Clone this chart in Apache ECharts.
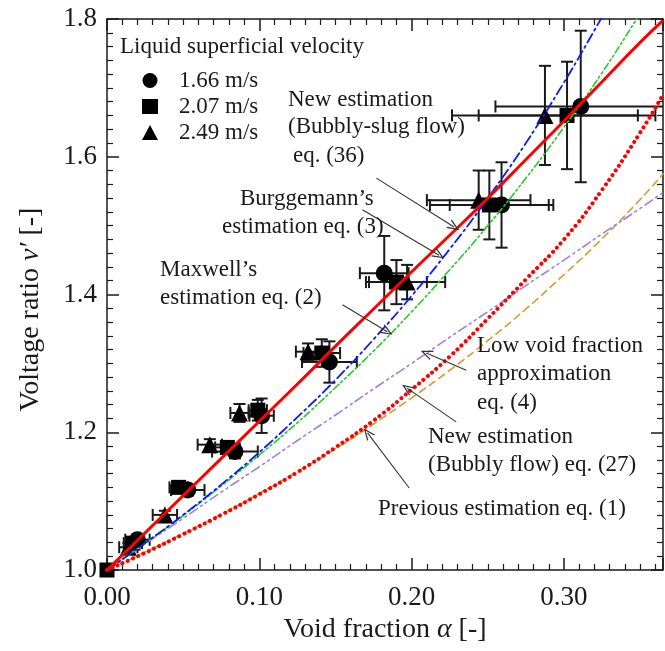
<!DOCTYPE html>
<html>
<head>
<meta charset="utf-8">
<script src="https://cdn.jsdelivr.net/npm/echarts@6/dist/echarts.min.js"></script>
<style>
  html, body { margin: 0; padding: 0; background: #fff; }
  #chart { width: 665px; height: 651px; }
</style>
</head>
<body>
<div id="chart"></div>
<script>
// measured points: [void fraction, voltage ratio, +/- void err, +/- ratio err]
const circles = [
  [0.020, 1.044, 0.008, 0.008],
  [0.053, 1.116, 0.011, 0.008],
  [0.084, 1.172, 0.015, 0.010],
  [0.1015, 1.224, 0.008, 0.025],
  [0.146, 1.302, 0.018, 0.030],
  [0.182, 1.431, 0.016, 0.054],
  [0.259, 1.530, 0.034, 0.062],
  [0.311, 1.673, 0.056, 0.110],
]
const squares = [
  [0.000, 1.000, 0, 0],
  [0.017, 1.039, 0.006, 0.006],
  [0.047, 1.120, 0.006, 0.006],
  [0.079, 1.178, 0.008, 0.008],
  [0.099, 1.232, 0.006, 0.015],
  [0.141, 1.315, 0.012, 0.020],
  [0.190, 1.418, 0.020, 0.032],
  [0.251, 1.530, 0.039, 0.050],
  [0.302, 1.660, 0.058, 0.078],
]
const triangles = [
  [0.014, 1.033, 0.006, 0.006],
  [0.038, 1.080, 0.008, 0.006],
  [0.0675, 1.182, 0.008, 0.008],
  [0.087, 1.228, 0.006, 0.013],
  [0.132, 1.317, 0.008, 0.012],
  [0.197, 1.418, 0.025, 0.025],
  [0.244, 1.537, 0.034, 0.043],
  [0.2875, 1.660, 0.061, 0.072],
]

// estimation curves
const alphaSteps = [0, 0.025, 0.05, 0.075, 0.1, 0.125, 0.15, 0.175, 0.2, 0.225, 0.25, 0.275, 0.3, 0.325, 0.35, 0.365]
const slugFlow36 = [1, 1.054, 1.108, 1.162, 1.216, 1.270, 1.325, 1.379, 1.433, 1.486, 1.540, 1.596, 1.652, 1.709, 1.766, 1.798]
const bubblyFlow27 = [1, 1.025, 1.052, 1.080, 1.110, 1.142, 1.178, 1.217, 1.262, 1.310, 1.365, 1.422, 1.480, 1.552, 1.635, 1.690]
const bruggeman3 = [1, 1.039, 1.080, 1.124, 1.171, 1.222, 1.276, 1.335, 1.398, 1.466, 1.540, 1.620, 1.708, 1.803, 1.9, 1.96]
const maxwell2 = [1, 1.039, 1.079, 1.122, 1.167, 1.214, 1.265, 1.318, 1.375, 1.436, 1.500, 1.569, 1.643, 1.722, 1.808, 1.86]
const lowVoid4 = [1, 1.038, 1.075, 1.113, 1.150, 1.188, 1.225, 1.263, 1.300, 1.338, 1.375, 1.413, 1.450, 1.488, 1.525, 1.548]
const previous1 = [1, 1.026, 1.053, 1.081, 1.111, 1.143, 1.176, 1.212, 1.250, 1.290, 1.333, 1.379, 1.429, 1.481, 1.538, 1.575]

const xTicks = [0, 0.1, 0.2, 0.3]
const yTicks = [1.0, 1.2, 1.4, 1.6, 1.8]

// annotation arrows: [from, to] in data units
const arrows = [
  [[0.1768, 1.569], [0.2279, 1.498]],
  [[0.1677, 1.523], [0.2180, 1.457]],
  [[0.1546, 1.385], [0.1840, 1.346]],
  [[0.2358, 1.290], [0.2096, 1.315]],
  [[0.2292, 1.215], [0.1970, 1.264]],
  [[0.1984, 1.119], [0.1710, 1.199]],
]

const FONT = '"Liberation Serif", "Times New Roman", serif'
const INK = '#1a1a1a'

const notes = [
  ['Liquid superficial velocity', 120, 48],
  ['New estimation', 288, 101],
  ['(Bubbly-slug flow)', 288, 128],
  ['eq. (36)', 293, 157],
  ['Burggemann\u2019s', 240, 200],
  ['estimation eq. (3)', 222, 228],
  ['Maxwell\u2019s', 160, 271],
  ['estimation eq. (2)', 160, 299],
  ['Low void fraction', 477, 347],
  ['approximation', 477, 375],
  ['eq. (4)', 477, 404],
  ['New estimation', 428, 438],
  ['(Bubbly flow) eq. (27)', 428, 466],
  ['Previous estimation eq. (1)', 378, 510],
]

function pairs(ys) {
  return alphaSteps.map((a, i) => [a, ys[i]])
}

function errorBars(params, api) {
  const x = api.value(0)
  const y = api.value(1)
  const dx = api.value(2)
  const dy = api.value(3)
  const cap = 6
  const style = { stroke: INK, lineWidth: 2 }
  const kids = []
  const seg = (x1, y1, x2, y2) => kids.push({ type: 'line', shape: { x1, y1, x2, y2 }, style })
  if (dx > 0) {
    const l = api.coord([x - dx, y])
    const r = api.coord([x + dx, y])
    seg(l[0], l[1], r[0], r[1])
    seg(l[0], l[1] - cap, l[0], l[1] + cap)
    seg(r[0], r[1] - cap, r[0], r[1] + cap)
  }
  if (dy > 0) {
    const t = api.coord([x, y + dy])
    const b = api.coord([x, y - dy])
    seg(t[0], t[1], b[0], b[1])
    seg(t[0] - cap, t[1], t[0] + cap, t[1])
    seg(b[0] - cap, b[1], b[0] + cap, b[1])
  }
  return { type: 'group', children: kids }
}

function points(name, data, symbol, size) {
  return [
    { type: 'custom', data, renderItem: errorBars, clip: true, z: 2, silent: true },
    {
      name, type: 'scatter', data: data.map((d) => [d[0], d[1]]),
      symbol, symbolSize: size, itemStyle: { color: '#000', opacity: 1 }, z: 3,
    },
  ]
}

function curve(ys, color, width, dash) {
  return {
    type: 'line', data: pairs(ys), smooth: true, showSymbol: false, clip: true, z: 4,
    lineStyle: { color, width, type: dash, cap: dash === 'solid' ? 'butt' : 'round' },
  }
}

const chevron = 'path://M0,10 L5,0 L10,10 L8.6,10 L5,2.6 L1.4,10 Z'

const chart = echarts.init(document.getElementById('chart'), null, { renderer: 'canvas' })

const baseX = {
  type: 'value', min: 0, max: 0.365, interval: 0.1,
  axisLine: { show: true, onZero: false, lineStyle: { color: INK, width: 1.5 } },
  axisTick: { inside: true, length: 12, lineStyle: { color: INK, width: 1.5 } },
  minorTick: { show: true, splitNumber: 10, length: 6, lineStyle: { color: INK, width: 1.2 } },
  splitLine: { show: false },
}
const baseY = {
  type: 'value', min: 1.0, max: 1.8, interval: 0.2,
  axisLine: { show: true, onZero: false, lineStyle: { color: INK, width: 1.5 } },
  axisTick: { inside: true, length: 12, lineStyle: { color: INK, width: 1.5 } },
  minorTick: { show: true, splitNumber: 10, length: 6, lineStyle: { color: INK, width: 1.2 } },
  splitLine: { show: false },
}

const titleStyle = {
  fontFamily: FONT, fontSize: 28, color: INK,
  rich: { i: { fontFamily: FONT, fontSize: 28, fontStyle: 'italic', color: INK } },
}

chart.setOption({
  animation: false,
  backgroundColor: '#fff',
  textStyle: { fontFamily: FONT },
  grid: { left: 107, right: 2, top: 19, bottom: 81 },
  legend: {
    data: [
      { name: '1.66 m/s', icon: 'circle' },
      { name: '2.07 m/s', icon: 'rect' },
      { name: '2.49 m/s', icon: 'triangle' },
    ],
    orient: 'vertical', left: 137, top: 64,
    itemWidth: 16, itemHeight: 15, itemGap: 3,
    textStyle: { fontFamily: FONT, fontSize: 23, color: INK, padding: [0, 0, 0, 16] },
    selectedMode: false,
  },
  xAxis: [
    Object.assign({}, baseX, {
      position: 'bottom',
      name: 'Void fraction {i|\u03b1} [-]',
      nameLocation: 'middle', nameGap: 42,
      nameTextStyle: titleStyle,
      axisLabel: {
        margin: 14, fontFamily: FONT, fontSize: 27, color: INK, showMaxLabel: false,
        formatter: (v) => (xTicks.some((t) => Math.abs(t - v) < 1e-9) ? v.toFixed(2) : ''),
      },
    }),
    Object.assign({}, baseX, { position: 'top', axisLabel: { show: false } }),
  ],
  yAxis: [
    Object.assign({}, baseY, {
      position: 'left',
      name: 'Voltage ratio {i|v\u2032} [-]',
      nameLocation: 'middle', nameGap: 62, nameRotate: 90,
      nameTextStyle: Object.assign({}, titleStyle, { padding: [0, 30, 0, 0] }),
      axisLabel: {
        margin: 10, fontFamily: FONT, fontSize: 27, color: INK,
        formatter: (v) => (yTicks.some((t) => Math.abs(t - v) < 1e-9) ? v.toFixed(1) : ''),
      },
    }),
    Object.assign({}, baseY, { position: 'right', axisLabel: { show: false } }),
  ],
  series: [
    ...points('1.66 m/s', circles, 'circle', 17),
    ...points('2.07 m/s', squares, 'rect', 15),
    ...points('2.49 m/s', triangles, 'triangle', 17),
    curve(previous1, '#d99a2b', 1.6, [7, 5]),
    curve(lowVoid4, '#a57be6', 1.6, [9, 4, 2, 4, 2, 4]),
    curve(maxwell2, '#22cc22', 1.6, [2, 3, 2, 3, 7, 3]),
    curve(bruggeman3, '#0a1aff', 1.8, [10, 4, 2, 4]),
    curve(bubblyFlow27, '#ff0000', 4, [0.1, 5.6]),
    Object.assign(curve(slugFlow36, '#ff0000', 3, 'solid'), {
      markLine: {
        silent: true, animation: false,
        symbol: ['none', chevron], symbolSize: [10, 12],
        label: { show: false },
        lineStyle: { color: '#333', width: 1.1, type: 'solid' },
        data: arrows.map(([a, b]) => [{ coord: a }, { coord: b }]),
      },
    }),
  ],
  graphic: notes.map(([text, x, cy]) => ({
    type: 'text', left: x, top: cy - 13, silent: true, z: 10,
    style: { text, font: '23px ' + FONT, fill: INK },
  })),
})
</script>
</body>
</html>
